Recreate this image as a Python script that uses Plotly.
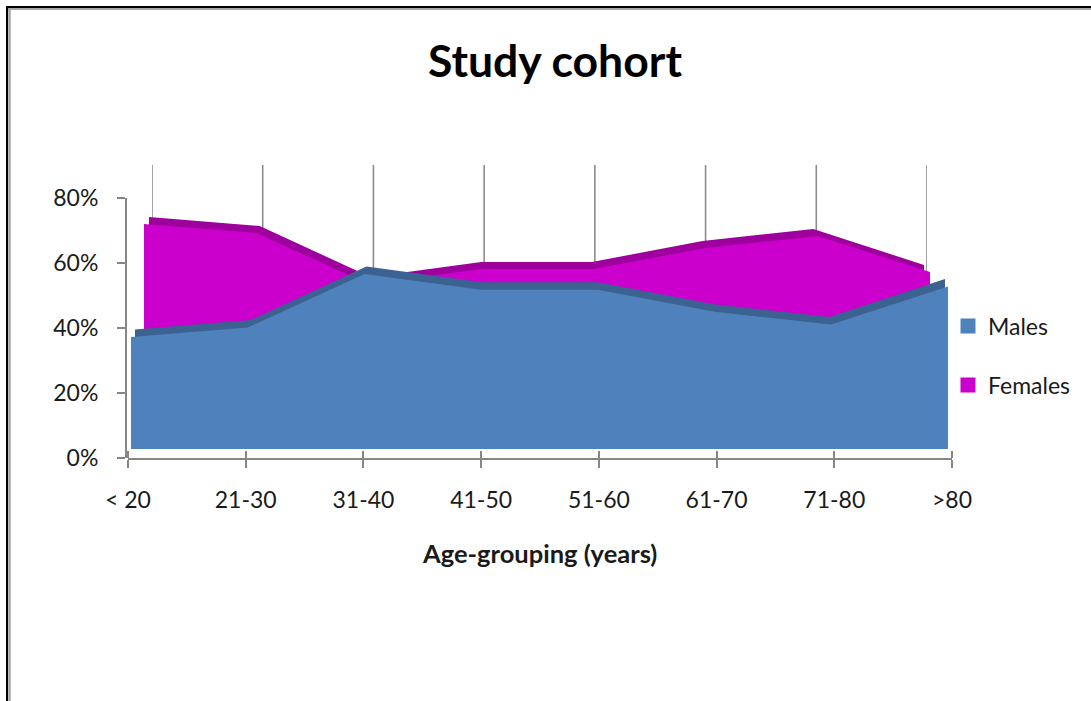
import plotly.graph_objects as go

# Canvas size in pixels (layout positions below are given on this grid)
W, H = 1091, 701

# ---- data -------------------------------------------------------------
categories = ["< 20", "21-30", "31-40", "41-50", "51-60", "61-70", "71-80", ">80"]
males = [38, 41, 58, 53, 53, 46, 42, 54]
females = [62, 59, 42, 47, 47, 54, 58, 46]
y_ticks = [0, 20, 40, 60, 80]
y_tick_labels = ["0%", "20%", "40%", "60%", "80%"]

# ---- styling ----------------------------------------------------------
MALE_FACE = "#4F81BD"
MALE_TOP = "#3B6291"
FEMALE_FACE = "#CC00CC"
FEMALE_TOP = "#9E009D"
AXIS = "#868686"
GRID = "#8C8C8C"
TEXT = "#1A1A1A"
FONT = "Lato"

idx = list(range(len(categories)))
n = len(categories) - 1


def plane(left, right, zero, scale, bottom, top):
    """Axis pair for one depth plane of the pseudo-3D area chart.

    left/right: pixel columns of the first/last category,
    zero: pixel row of value 0, scale: pixels per percent,
    bottom/top: pixel rows where the plane is clipped."""
    xa = dict(domain=[left / W, right / W], range=[0, n], visible=False,
              fixedrange=True, automargin=False)
    ya = dict(domain=[1 - bottom / H, 1 - top / H],
              range=[(zero - bottom) / scale, (zero - top) / scale],
              visible=False, fixedrange=True, automargin=False)
    return xa, ya


# back wall (carries the vertical category gridlines), then the back edge
# and front face of each series slab
wall_x, wall_y = plane(152, 927, 405, 3.0, 405, 160)
f_top_x, f_top_y = plane(149, 924, 403, 3.0, 403, 160)
f_face_x, f_face_y = plane(144, 930, 410, 3.0, 410, 160)
m_top_x, m_top_y = plane(135, 945, 449.2, 3.15, 441, 160)
m_face_x, m_face_y = plane(131, 948, 456.7, 3.15, 449, 160)

fig = go.Figure()

# vertical gridlines on the back wall, one per category, up to the top tick
grid_x, grid_y = [], []
for i in idx:
    grid_x += [i, i, None]
    grid_y += [y_ticks[0], y_ticks[-1], None]
fig.add_trace(go.Scatter(x=grid_x, y=grid_y, xaxis="x2", yaxis="y2",
                         mode="lines", line=dict(color=GRID, width=1.6),
                         showlegend=False, hoverinfo="skip"))


def area(values, color, xa, ya):
    return go.Scatter(x=idx, y=values, xaxis=xa, yaxis=ya, mode="lines",
                      line=dict(width=0, color=color), fill="tozeroy",
                      fillcolor=color, showlegend=False, hoverinfo="skip")


fig.add_trace(area(females, FEMALE_TOP, "x3", "y3"))
fig.add_trace(area(females, FEMALE_FACE, "x4", "y4"))
fig.add_trace(area(males, MALE_TOP, "x5", "y5"))
fig.add_trace(area(males, MALE_FACE, "x6", "y6"))

# legend entries
fig.add_trace(go.Scatter(x=[None], y=[None], mode="markers", name="Males",
                         marker=dict(symbol="square", size=15, color=MALE_FACE),
                         legend="legend"))
fig.add_trace(go.Scatter(x=[None], y=[None], mode="markers", name="Females",
                         marker=dict(symbol="square", size=15, color=FEMALE_FACE),
                         legend="legend2"))

tick_font = dict(family=FONT, size=23, color=TEXT)

fig.update_layout(
    template="none",
    width=W, height=H, autosize=False,
    margin=dict(l=0, r=0, t=0, b=0, pad=0, autoexpand=False),
    paper_bgcolor="white", plot_bgcolor="rgba(0,0,0,0)",
    font=dict(family=FONT, color=TEXT),
    xaxis=dict(domain=[128 / W, 952 / W], range=[0, n], tickvals=idx,
               ticktext=categories, ticks="outside", ticklen=8, tickwidth=2,
               tickcolor=AXIS, showline=True, linecolor=AXIS, linewidth=2,
               minor=dict(tickvals=idx, ticks="inside", ticklen=7,
                          tickwidth=2, tickcolor=AXIS, showgrid=False),
               showgrid=False, zeroline=False, tickfont=tick_font,
               ticklabelstandoff=12, anchor="y", fixedrange=True,
               automargin=False),
    yaxis=dict(domain=[1 - 458 / H, 1 - 198 / H], range=[0, 80],
               tickvals=y_ticks, ticktext=y_tick_labels, ticks="outside",
               ticklen=8, tickwidth=2, tickcolor=AXIS, showline=True,
               linecolor=AXIS, linewidth=2, showgrid=False, zeroline=False,
               tickfont=tick_font, ticklabelstandoff=14, anchor="free",
               position=126 / W, fixedrange=True, automargin=False),
    xaxis2=wall_x, yaxis2=wall_y,
    xaxis3=f_top_x, yaxis3=f_top_y,
    xaxis4=f_face_x, yaxis4=f_face_y,
    xaxis5=m_top_x, yaxis5=m_top_y,
    xaxis6=m_face_x, yaxis6=m_face_y,
    legend=dict(x=948 / W, y=1 - 326 / H, xanchor="left", yanchor="middle",
                font=dict(family=FONT, size=23, color=TEXT),
                bgcolor="rgba(0,0,0,0)", borderwidth=0, itemsizing="trace"),
    legend2=dict(x=948 / W, y=1 - 385 / H, xanchor="left", yanchor="middle",
                 font=dict(family=FONT, size=23, color=TEXT),
                 bgcolor="rgba(0,0,0,0)", borderwidth=0, itemsizing="trace"),
    showlegend=True,
)

# pair each depth-plane axis with its partner
for k in range(2, 7):
    fig.layout[f"xaxis{k}"].anchor = f"y{k}"
    fig.layout[f"yaxis{k}"].anchor = f"x{k}"

# chart title and category axis title
fig.add_annotation(text="Study cohort", x=555 / W, y=1 - 60 / H,
                   xref="paper", yref="paper", showarrow=False,
                   xanchor="center", yanchor="middle",
                   font=dict(family=FONT, size=44.5, weight="bold", color="black"))
fig.add_annotation(text="Age-grouping (years)", x=539 / W, y=1 - 553 / H,
                   xref="paper", yref="paper", showarrow=False,
                   xanchor="center", yanchor="middle",
                   font=dict(family=FONT, size=25.5, weight="bold", color=TEXT))

# frame along the left and top edges
frame = [
    dict(x0=7 / W, x1=7 / W, y0=0, y1=1 - 6 / H, color="black", width=2),
    dict(x0=6 / W, x1=1, y0=1 - 7 / H, y1=1 - 7 / H, color="black", width=2),
    dict(x0=9.5 / W, x1=9.5 / W, y0=0, y1=1 - 8 / H, color="#A6A6A6", width=2.5),
    dict(x0=8 / W, x1=1, y0=1 - 9 / H, y1=1 - 9 / H, color="#A6A6A6", width=2),
]
for s in frame:
    fig.add_shape(type="line", xref="paper", yref="paper",
                  x0=s["x0"], x1=s["x1"], y0=s["y0"], y1=s["y1"],
                  line=dict(color=s["color"], width=s["width"]))

fig.write_html("out.html")
